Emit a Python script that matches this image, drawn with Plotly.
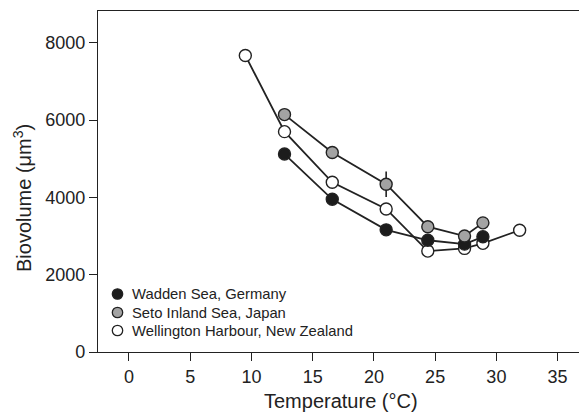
import plotly.graph_objects as go

# ---- data ----
series_names = ["Wadden Sea, Germany", "Seto Inland Sea, Japan", "Wellington Harbour, New Zealand"]

wadden_temp = [12.7, 16.6, 21.0, 24.4, 27.4, 28.9]
wadden_vol = [5120, 3950, 3160, 2890, 2790, 2980]

seto_temp = [12.7, 16.6, 21.0, 24.4, 27.4, 28.9]
seto_vol = [6140, 5160, 4340, 3240, 3000, 3340]
seto_err = [0, 0, 330, 0, 0, 0]

wellington_temp = [9.5, 12.7, 16.6, 21.0, 24.4, 27.4, 28.9, 31.9]
wellington_vol = [7670, 5700, 4390, 3700, 2610, 2680, 2810, 3150]

x_ticks = [0, 5, 10, 15, 20, 25, 30, 35]
y_ticks = [0, 2000, 4000, 6000, 8000]

fills = ["#1c1c1c", "#a3a3a3", "#ffffff"]
INK = "#222222"
FONT = "Liberation Sans, Arial, Helvetica, sans-serif"

fig = go.Figure()

data = [
    (wadden_temp, wadden_vol, None),
    (seto_temp, seto_vol, seto_err),
    (wellington_temp, wellington_vol, None),
]
# draw order: Wellington (white) under, then Wadden, then Seto on top
for idx in [2, 0, 1]:
    xs, ys, err = data[idx]
    tr = dict(
        x=xs, y=ys, mode="lines+markers", name=series_names[idx], showlegend=False,
        line=dict(color=INK, width=1.8),
        marker=dict(size=12, color=fills[idx], line=dict(color=INK, width=1.4)),
    )
    if err is not None:
        tr["error_y"] = dict(type="data", array=err, visible=True, color=INK,
                             thickness=1.6, width=0)
    fig.add_trace(go.Scatter(**tr))

# page body has an 8px margin: figure sits at (8, 8) in the window
OFF = 8
W, H = 587 - OFF, 414 - OFF
L, R, T, B = 98 - OFF, 0, 11 - OFF, 414 - 352
pw, ph = W - L - R, H - T - B

def wx(px):
    """window pixel x -> paper x"""
    return (px - OFF - L) / pw

def wy(py):
    """window pixel y -> paper y"""
    return (H - B - (py - OFF)) / ph

# manual legend (symbol + text), matching the reference spacing
legend_rows_y = [294, 312.5, 330.5]
shapes = []
annotations = []
for name, fill, ry in zip(series_names, fills, legend_rows_y):
    shapes.append(dict(
        type="circle", xref="paper", yref="paper", xsizemode="pixel", ysizemode="pixel",
        xanchor=wx(117.5), yanchor=wy(ry), x0=-5.2, x1=5.2, y0=-5.2, y1=5.2,
        fillcolor=fill, line=dict(color=INK, width=1.3), layer="above",
    ))
    annotations.append(dict(
        text=name, xref="paper", yref="paper", x=wx(130), y=wy(ry),
        xanchor="left", yanchor="middle", showarrow=False,
        font=dict(size=14.8, family=FONT, color=INK),
    ))

annotations.append(dict(
    text="Temperature (°C)", xref="paper", yref="paper",
    x=wx(341), y=wy(401), xanchor="center", yanchor="middle",
    showarrow=False, font=dict(size=20, family=FONT, color=INK)))
annotations.append(dict(
    text="Biovolume (μm<sup>3</sup>)", xref="paper", yref="paper",
    x=wx(23), y=wy(198), xanchor="center", yanchor="middle",
    textangle=-90, showarrow=False, font=dict(size=20, family=FONT, color=INK)))

fig.update_layout(
    width=W, height=H,
    margin=dict(l=L, r=R, t=T, b=B, pad=0),
    plot_bgcolor="white", paper_bgcolor="white",
    font=dict(family=FONT, color=INK, size=18),
    showlegend=False,
    xaxis=dict(
        range=[-2.53, 37.4], tickvals=x_ticks, ticks="outside", ticklen=8,
        tickwidth=1.4, tickcolor=INK, showline=True, linecolor=INK, linewidth=1.4,
        mirror=True, showgrid=False, zeroline=False,
        tickfont=dict(size=18, family=FONT, color=INK),
    ),
    yaxis=dict(
        range=[0, 8820], tickvals=y_ticks, ticks="outside", ticklen=8,
        tickwidth=1.4, tickcolor=INK, showline=True, linecolor=INK, linewidth=1.4,
        mirror=False, showgrid=False, zeroline=False,
        tickfont=dict(size=18, family=FONT, color=INK),
    ),
    shapes=shapes,
    annotations=annotations,
)

fig.write_html("out.html")
